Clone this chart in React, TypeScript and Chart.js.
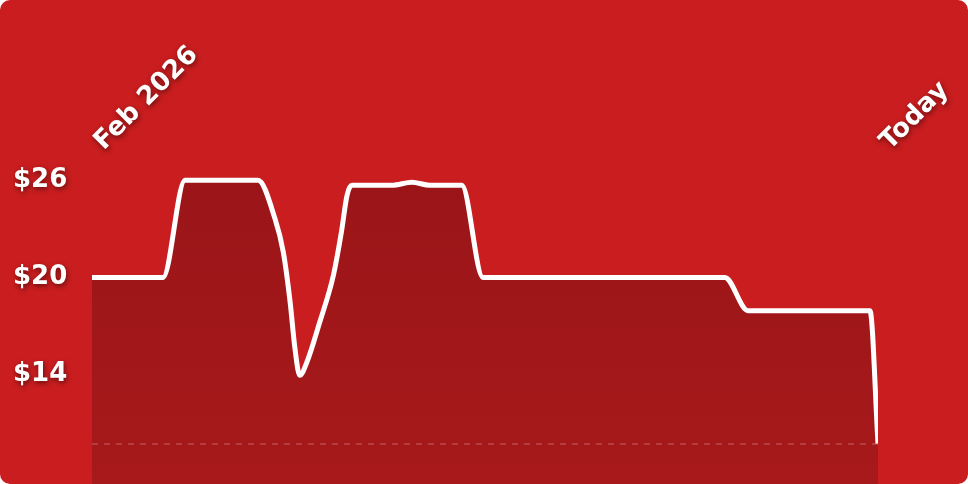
import React, { useEffect, useRef } from 'react'
import { Chart, registerables } from 'chart.js'

Chart.register(...registerables)

// days since the start of Feb 2026
const dayOffsets = [
  0, 8.85, 11.6, 20.7, 22.8, 23.85, 24.7, 25.3, 25.9, 26.8, 28.4, 30.1, 31.1, 31.8, 32.4, 37.4, 39.9, 42.1,
  46.1, 48.75, 78.9, 81.8, 97.0, 98,
]
const prices = [
  20, 20, 26, 26, 23.65, 21.57, 18.49, 15.63, 13.96, 14.78, 17.25, 20.14, 22.81, 25.07, 25.69, 25.69, 25.88,
  25.69, 25.69, 20, 20, 17.95, 17.95, 9.75,
]
const xTickLabels = ['Feb 2026', 'Today']
const yTickValues = [14, 20, 26]
const baselineValue = 9.75

const labelFont = { family: '"DejaVu Sans", sans-serif', size: 26, weight: 'bold' as const }

// text shadow only for the tick labels (drawn before the datasets)
const labelShadow = {
  id: 'labelShadow',
  beforeDraw(chart: Chart) {
    const c = chart.ctx
    c.save()
    c.shadowColor = 'rgba(0,0,0,0.5)'
    c.shadowBlur = 5
    c.shadowOffsetX = 1
    c.shadowOffsetY = 2
  },
  beforeDatasetsDraw(chart: Chart) {
    chart.ctx.restore()
  },
}

export default function App() {
  const canvasRef = useRef<HTMLCanvasElement>(null)

  useEffect(() => {
    document.body.style.margin = '0'
    if (!canvasRef.current) return
    const chart = new Chart(canvasRef.current, {
      type: 'line',
      data: {
        datasets: [
          {
            data: dayOffsets.map((d, i) => ({ x: d, y: prices[i] })),
            borderColor: '#ffffff',
            borderWidth: 5,
            borderJoinStyle: 'round',
            pointRadius: 0,
            cubicInterpolationMode: 'monotone',
            fill: 'start',
            backgroundColor: (ctx: any) => {
              const area = ctx.chart.chartArea
              if (!area) return '#a0171a'
              const g = ctx.chart.ctx.createLinearGradient(0, area.top, 0, area.bottom)
              g.addColorStop(0, '#9a1518')
              g.addColorStop(1, '#a7191b')
              return g
            },
          },
        ],
      },
      options: {
        animation: false,
        responsive: true,
        maintainAspectRatio: false,
        layout: { padding: { left: 13, right: 90, top: 0, bottom: 0 } },
        plugins: { legend: { display: false }, tooltip: { enabled: false } },
        scales: {
          x: {
            type: 'linear',
            position: 'top',
            min: dayOffsets[0],
            max: dayOffsets[dayOffsets.length - 1],
            grid: { display: false },
            border: { display: false },
            afterBuildTicks: (axis: any) => {
              axis.ticks = [{ value: dayOffsets[0] }, { value: dayOffsets[dayOffsets.length - 1] }]
            },
            afterFit: (axis: any) => {
              axis.height = 160
              axis.paddingLeft = 0
              axis.paddingRight = 0
            },
            ticks: {
              autoSkip: false,
              minRotation: 45,
              maxRotation: 45,
              padding: -5,
              labelOffset: 29,
              color: '#ffffff',
              font: labelFont,
              callback: (_v: any, i: number) => xTickLabels[i],
            },
          },
          y: {
            min: 7.25,
            max: 27.25,
            afterBuildTicks: (axis: any) => {
              axis.ticks = [baselineValue, ...yTickValues].map((v) => ({ value: v }))
            },
            afterFit: (axis: any) => {
              axis.width = 79
              axis.paddingTop = 0
              axis.paddingBottom = 0
            },
            grid: {
              z: 1,
              drawTicks: false,
              lineWidth: 2,
              color: (ctx: any) => (ctx.tick && ctx.tick.value === baselineValue ? 'rgba(255,255,255,0.16)' : 'transparent'),
            },
            border: { display: false, dash: [6, 6] },
            ticks: {
              crossAlign: 'far',
              padding: 0,
              color: '#ffffff',
              font: labelFont,
              callback: (v: any) => (v === baselineValue ? '' : '$' + v),
            },
          },
        },
      },
      plugins: [labelShadow],
    })
    return () => chart.destroy()
  }, [])

  return (
    <div style={{ width: 968, height: 484, background: '#c91d1f', borderRadius: 10, overflow: 'hidden' }}>
      <canvas ref={canvasRef} />
    </div>
  )
}
